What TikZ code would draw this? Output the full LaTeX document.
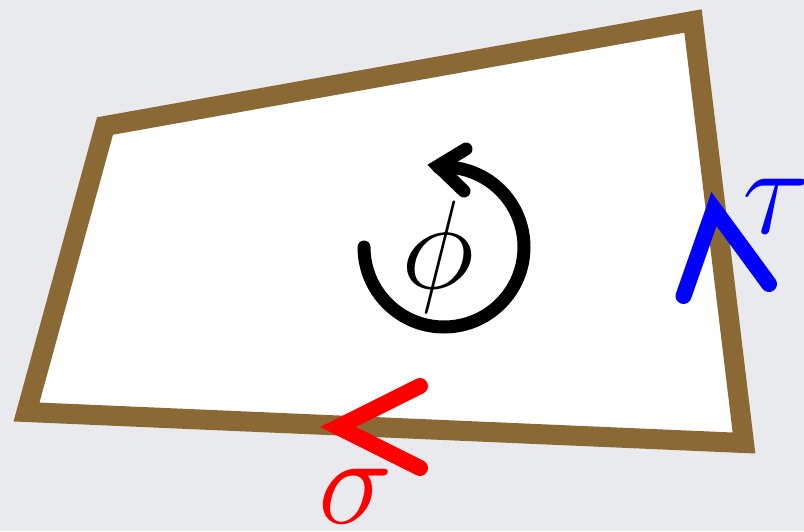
\documentclass[tikz,border=0pt]{standalone}
\usepackage{graphicx}
\usepackage{tikz}
\definecolor{bgc}{HTML}{E9EAEE}
\definecolor{framec}{HTML}{8A6934}
\newcommand{\bigsym}[1]{\scalebox{5.06}{\Huge$#1$}}
\begin{document}
\begin{tikzpicture}[x=1pt,y=-1pt,
  frame/.style={draw=framec,line width=20pt,fill=white,line join=miter},
  chev/.style={line width=16pt,line cap=round,line join=miter},
  rot/.style={line width=13pt,line cap=round,line join=miter,draw=black},
  big/.style={inner sep=0pt}]
\fill[bgc] (0,0) rectangle (804,531);
\useasboundingbox (0,0) rectangle (804,531);
% frame
\coordinate (tl) at (105,126);
\coordinate (tr) at (693,21);
\coordinate (br) at (744,443);
\coordinate (bl) at (26.5,412);
\draw[frame] (tl) -- (tr) -- (br) -- (bl) -- cycle;
% rotation arrow
\coordinate (rc) at (444,247);
\draw[rot] (364,247) arc[start angle=180,end angle=454,radius=80pt];
\coordinate (ra) at (466,149);
\coordinate (rv) at (438,166);
\coordinate (rb) at (464,191);
\draw[rot] (ra) -- (rv) -- (rb);
\node[big,anchor=base] (phi) at (438,288) {\bigsym{\phi}};
% red chevron
\coordinate (sa) at (420,386);
\coordinate (sv) at (338,427);
\coordinate (sb) at (420,468);
\draw[chev,red] (sa) -- (sv) -- (sb);
\node[big,anchor=base west,red] (sigma) at (318,523) {\bigsym{\sigma}};
% blue chevron
\coordinate (ta) at (683.5,296);
\coordinate (tv) at (714,209);
\coordinate (tb) at (769,284);
\draw[chev,blue] (ta) -- (tv) -- (tb);
\node[big,anchor=base west,blue] (tau) at (742,233) {\bigsym{\tau}};
\end{tikzpicture}
\end{document}
